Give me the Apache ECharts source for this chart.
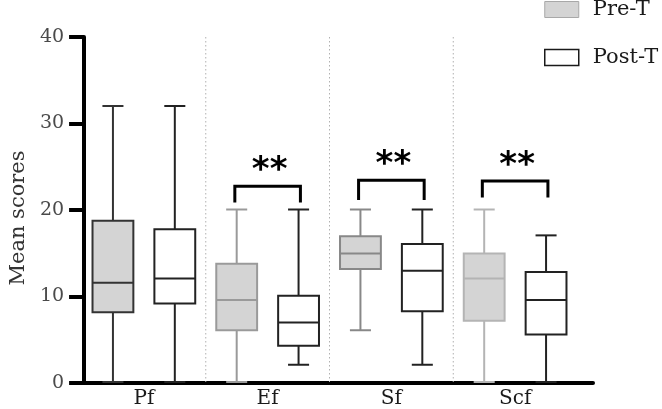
<!DOCTYPE html>
<html>
<head>
<meta charset="utf-8">
<script src="https://cdn.jsdelivr.net/npm/echarts@6/dist/echarts.min.js"></script>
<style>html,body{margin:0;padding:0;background:#fff}#c{width:662px;height:409px}</style>
</head>
<body>
<div id="c"></div>
<script>
// ---- data ----
const categories = ['Pf', 'Ef', 'Sf', 'Scf'];
const yTicks = [0, 10, 20, 30, 40];
const preMin = [0, 0, 6, 0];
const preQ1  = [8.1, 6.0, 13.1, 7.1];
const preMed = [11.5, 9.5, 14.9, 12.0];
const preQ3  = [18.7, 13.7, 16.9, 14.9];
const preMax = [32, 20, 20, 20];
const postMin = [0, 2, 2, 0];
const postQ1  = [9.1, 4.2, 8.2, 5.5];
const postMed = [12.0, 6.9, 12.9, 9.5];
const postQ3  = [17.7, 10.0, 16.0, 12.75];
const postMax = [32, 20, 20, 17];
const sigCats = [1, 2, 3];
const sigLow  = [20.8, 21.1, 21.4];
const sigHigh = [22.7, 23.4, 23.3];
const sigText = ['**', '**', '**'];
const separators = [1, 2, 3];

// ---- styles ----
const preStroke = ['#333333', '#9a9a9a', '#888888', '#b4b4b4'];
const postStroke = ['#222222', '#222222', '#222222', '#222222'];
const preFill = '#d4d4d4';
const postFill = '#ffffff';

function makeRows(mn, q1, md, q3, mx) {
  return categories.map((c, i) => [i, mn[i], q1[i], md[i], q3[i], mx[i]]);
}

function boxRenderer(off, fill, strokes) {
  return function (params, api) {
    const i = api.value(0);
    const band = api.size([1, 0])[0];
    const cx = api.coord([i, 0])[0] + off * band;
    const bw = band * 0.33, cw = band * 0.17;
    const y = k => api.coord([i, api.value(k)])[1];
    const yMin = y(1), yQ1 = y(2), yMed = y(3), yQ3 = y(4), yMax = y(5);
    const stroke = strokes[params.dataIndex];
    const ls = { stroke: stroke, lineWidth: 2, fill: null };
    return {
      type: 'group',
      children: [
        { type: 'line', shape: { x1: cx, y1: yQ3, x2: cx, y2: yMax }, style: ls },
        { type: 'line', shape: { x1: cx, y1: yQ1, x2: cx, y2: yMin }, style: ls },
        { type: 'line', shape: { x1: cx - cw / 2, y1: yMax, x2: cx + cw / 2, y2: yMax }, style: ls },
        { type: 'line', shape: { x1: cx - cw / 2, y1: yMin, x2: cx + cw / 2, y2: yMin }, style: ls },
        { type: 'rect', shape: { x: cx - bw / 2, y: yQ3, width: bw, height: yQ1 - yQ3 }, style: { fill: fill, stroke: stroke, lineWidth: 2 } },
        { type: 'line', shape: { x1: cx - bw / 2, y1: yMed, x2: cx + bw / 2, y2: yMed }, style: ls }
      ]
    };
  };
}

const chart = echarts.init(document.getElementById('c'), null, { renderer: 'canvas' });
chart.setOption({
  animation: false,
  backgroundColor: '#ffffff',
  legend: {
    orient: 'vertical',
    left: 539,
    top: -6,
    itemWidth: 34,
    itemHeight: 16,
    itemGap: 27,
    textStyle: { fontFamily: 'DejaVu Serif', fontSize: 21, color: '#1a1a1a', padding: [0, 0, 0, 9] },
    data: [
      { name: 'Pre-T', icon: 'rect', itemStyle: { color: preFill, borderColor: '#a8a8a8', borderWidth: 1 } },
      { name: 'Post-T', icon: 'rect', itemStyle: { color: postFill, borderColor: '#1a1a1a', borderWidth: 1.5 } }
    ]
  },
  grid: [
    { left: 82, right: 85, top: 37, bottom: 26 },
    { left: 72, right: 69, top: 37, bottom: 26 }
  ],
  xAxis: [
    {
      type: 'category', gridIndex: 0, data: categories, boundaryGap: true,
      axisLine: { show: false }, axisTick: { show: false }, splitLine: { show: false },
      axisLabel: { fontFamily: 'DejaVu Serif', fontSize: 20, color: '#1a1a1a', margin: 7 }
    },
    {
      type: 'value', gridIndex: 1, min: 0, max: 1,
      axisLine: { show: true, lineStyle: { color: '#000', width: 4 } },
      axisTick: { show: false }, axisLabel: { show: false }, splitLine: { show: false }
    }
  ],
  yAxis: [
    { type: 'value', gridIndex: 0, min: 0, max: 40, interval: 10, show: false },
    {
      type: 'value', gridIndex: 1, min: 0, max: 40, interval: 10,
      name: 'Mean scores', nameLocation: 'middle', nameGap: 52,
      nameTextStyle: { fontFamily: 'DejaVu Serif', fontSize: 21, color: '#333', padding: [0, 16, 0, 0] },
      axisLine: { show: true, lineStyle: { color: '#000', width: 4 } },
      axisTick: { show: true, length: 15, lineStyle: { color: '#000', width: 4 } },
      axisLabel: { fontFamily: 'DejaVu Serif', fontSize: 19, color: '#4a4a4a', margin: 20,
        formatter: v => (yTicks.indexOf(v) >= 0 ? String(v) : '') },
      splitLine: { show: false }
    }
  ],
  series: [
    {
      name: 'separators', type: 'custom', xAxisIndex: 0, yAxisIndex: 0, silent: true, z: 1,
      data: separators.map(s => [s]),
      encode: { x: 0 },
      renderItem: function (params, api) {
        const i = api.value(0);
        const band = api.size([1, 0])[0];
        const x = api.coord([i, 0])[0] - band / 2;
        return {
          type: 'line',
          shape: { x1: x, y1: api.coord([i, 40])[1], x2: x, y2: api.coord([i, 0])[1] },
          style: { stroke: '#b0b0b0', lineWidth: 1, lineDash: [1.5, 2.5] }
        };
      }
    },
    {
      name: 'Pre-T', type: 'custom', xAxisIndex: 0, yAxisIndex: 0, z: 2,
      data: makeRows(preMin, preQ1, preMed, preQ3, preMax),
      encode: { x: 0, y: [1, 2, 3, 4, 5] },
      itemStyle: { color: preFill },
      renderItem: boxRenderer(-0.25, preFill, preStroke)
    },
    {
      name: 'Post-T', type: 'custom', xAxisIndex: 0, yAxisIndex: 0, z: 2,
      data: makeRows(postMin, postQ1, postMed, postQ3, postMax),
      encode: { x: 0, y: [1, 2, 3, 4, 5] },
      itemStyle: { color: postFill },
      renderItem: boxRenderer(0.25, postFill, postStroke)
    },
    {
      name: 'sig', type: 'custom', xAxisIndex: 0, yAxisIndex: 0, silent: true, z: 3,
      data: sigCats.map((c, k) => [c, sigLow[k], sigHigh[k]]),
      encode: { x: 0, y: [1, 2] },
      renderItem: function (params, api) {
        const i = api.value(0);
        const band = api.size([1, 0])[0];
        const cx = api.coord([i, 0])[0];
        const half = band * 0.265;
        const yl = api.coord([i, api.value(1)])[1];
        const yh = api.coord([i, api.value(2)])[1];
        return {
          type: 'group',
          children: [
            { type: 'polyline', shape: { points: [[cx - half, yl], [cx - half, yh], [cx + half, yh], [cx + half, yl]] },
              style: { stroke: '#000', lineWidth: 3, fill: null } },
            { type: 'text', x: cx + 2, y: yh + 2,
              style: { text: sigText[params.dataIndex], fontFamily: 'DejaVu Sans', fontWeight: 'bold', fontSize: 34,
                fill: '#000', align: 'center', verticalAlign: 'bottom' } }
          ]
        };
      }
    }
  ]
});
</script>
</body>
</html>
